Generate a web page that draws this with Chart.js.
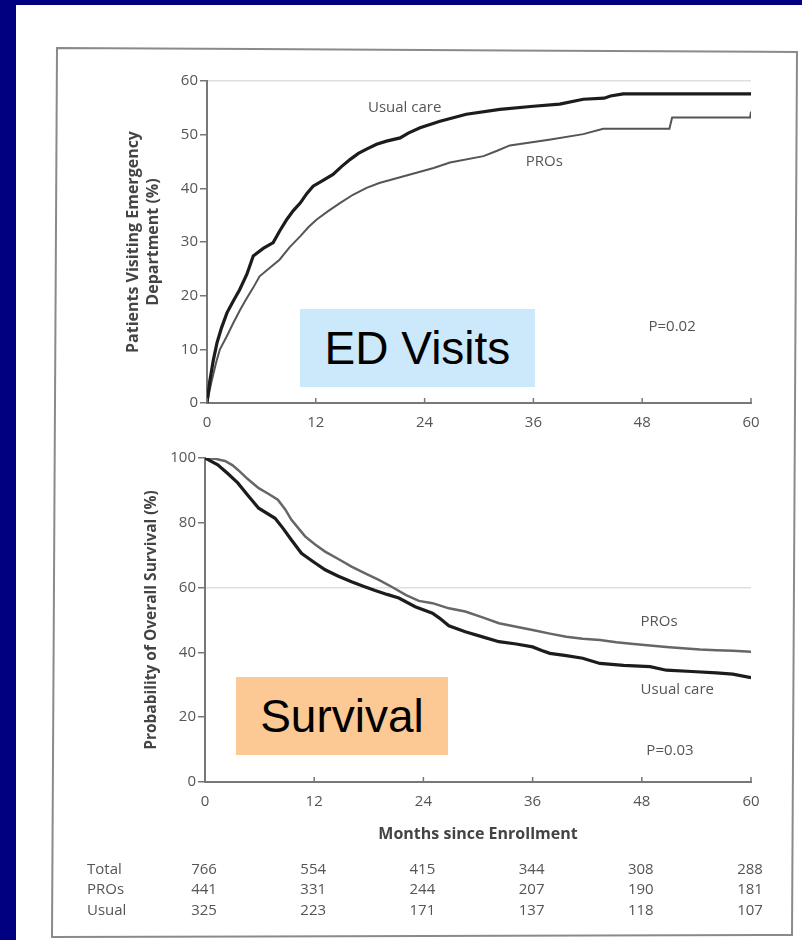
<!DOCTYPE html>
<html>
<head>
<meta charset="utf-8">
<title>ED visits and survival</title>
<script src="https://cdn.jsdelivr.net/npm/chart.js@4"></script>
<style>
    body { margin: 0; background: #000080; width: 802px; height: 940px; overflow: hidden; position: relative; }
    #paper { position: absolute; left: 16px; top: 5px; width: 786px; height: 935px; background: #fff; }
    #frame { position: absolute; left: 0; top: 0; }
    canvas { position: absolute; left: 0; }
    #edChart { top: 0; }
    #survChart { top: 440px; }
    .tag { position: absolute; font-family: "Liberation Sans", Arial, sans-serif; font-size: 46px; color: #000;
           display: flex; align-items: center; justify-content: center; }
    #edTag { left: 300px; top: 309px; width: 235px; height: 78px; background: #cce9fb; }
    #survTag { left: 236px; top: 677px; width: 212px; height: 78px; background: #fcc894; }
</style>
</head>
<body>
<div id="paper"></div>
<svg id="frame" width="802" height="940">
    <polygon points="57,48 797,52 792,935 52,937" fill="none" stroke="#8a8a8a" stroke-width="2"/>
</svg>
<canvas id="edChart" width="802" height="440"></canvas>
<canvas id="survChart" width="802" height="500"></canvas>
<div class="tag" id="edTag">ED Visits</div>
<div class="tag" id="survTag">Survival</div>

<script>
// x ticks / risk table columns
const months = [0, 12, 24, 36, 48, 60];
const riskTotal = [766, 554, 415, 344, 308, 288];
const riskPros = [441, 331, 244, 207, 190, 181];
const riskUsual = [325, 223, 171, 137, 118, 107];

// patients visiting ED (%)
const edUsualMonths = [0, 0.3, 0.7, 1.1, 1.6, 2.2, 2.9, 3.6, 4.4, 5.1, 6.2, 7.3, 8.0, 8.8, 9.5, 10.3, 11.0, 11.7, 12.8, 13.9,
    14.8, 15.8, 16.7, 17.6, 18.7, 19.8, 21.3, 22.2, 23.5, 25.7, 28.6, 32.3, 36.0, 38.9, 41.5, 43.8, 44.5, 45.9, 60];
const edUsualPct = [0, 4, 8, 11.2, 14, 16.8, 19, 21.1, 24, 27.4, 28.8, 29.9, 32, 34.2, 35.8, 37.3, 39, 40.4, 41.5, 42.6,
    44, 45.4, 46.5, 47.3, 48.2, 48.8, 49.4, 50.3, 51.3, 52.5, 53.8, 54.7, 55.3, 55.7, 56.6, 56.8, 57.2, 57.6, 57.6];

const edProsMonths = [0, 0.5, 1.0, 1.4, 2.2, 2.9, 3.6, 4.3, 5.1, 5.8, 7.0, 8.0, 9.1, 10.3, 11.2, 12.1, 13.4, 14.7, 16.1, 17.6,
    19.0, 20.5, 23.1, 25.0, 26.8, 30.5, 32.0, 33.4, 37.9, 41.5, 43.7, 51.0, 51.3, 59.9, 60];
const edProsPct = [0, 4, 7.5, 9.9, 12.5, 14.9, 17.2, 19.3, 21.5, 23.6, 25.3, 26.7, 29, 31.1, 32.8, 34.2, 35.8, 37.3, 38.8, 40.1,
    41, 41.7, 42.9, 43.8, 44.8, 46.0, 47, 48.0, 49.1, 50.1, 51.1, 51.1, 53.2, 53.2, 54.3];

// probability of overall survival (%)
const survUsualMonths = [0, 1.4, 2.5, 3.6, 4.7, 5.9, 7.7, 8.6, 9.5, 10.6, 11.9, 13.2, 14.6, 16.1, 17.4, 18.7, 20.0, 21.3, 23.1, 25.0,
    25.8, 26.8, 28.6, 30.5, 32.3, 34.2, 36.0, 37.0, 37.9, 39.7, 41.5, 43.4, 46.0, 48.9, 50.7, 53.5, 56.2, 58.0, 60];
const survUsualPct = [100, 97.9, 95.2, 92.3, 88.5, 84.5, 81.4, 78.2, 74.7, 70.6, 68, 65.5, 63.6, 61.8, 60.4, 59.1, 57.9, 56.8, 54.1, 52.1,
    50.5, 48.2, 46.4, 44.8, 43.3, 42.6, 41.7, 40.6, 39.7, 39.0, 38.2, 36.6, 36.0, 35.6, 34.5, 34.1, 33.7, 33.3, 32.2];

const survProsMonths = [0, 1.0, 2.2, 3.0, 3.6, 4.7, 5.9, 7.0, 8.0, 8.8, 9.5, 10.3, 11.0, 12.1, 13.2, 14.6, 16.1, 17.6, 19.1, 20.6,
    22.1, 23.5, 25.0, 26.8, 28.6, 30.5, 32.3, 34.2, 36.0, 37.9, 39.7, 41.5, 43.4, 45.2, 47.1, 48.9, 50.7, 52.5, 54.4, 56.2, 58.0, 60];
const survProsPct = [100, 99.8, 99.1, 97.8, 96.4, 93.5, 90.7, 88.9, 87.1, 84.2, 80.9, 78.2, 75.8, 73.3, 71.1, 68.9, 66.5, 64.4, 62.4, 60.1,
    57.7, 55.9, 55.2, 53.6, 52.6, 50.8, 49.0, 47.9, 46.9, 45.8, 44.8, 44.2, 43.8, 43.1, 42.6, 42.1, 41.7, 41.3, 40.9, 40.7, 40.5, 40.2];

Chart.defaults.font.family = '"Open Sans", sans-serif';
Chart.defaults.color = '#555';

let toPoints = function (xs, ys) {
    return xs.map(function (x, i) { return {x: x, y: ys[i]}; });
};

// tick marks pointing up, curve labels, numbers at risk
let kmExtras = {
    id: 'kmExtras',
    afterDraw: function (chart, args, opts) {
        let ctx = chart.ctx;
        let xs = chart.scales.x;
        let ys = chart.scales.y;
        ctx.save();
        ctx.strokeStyle = '#777';
        ctx.lineWidth = 1.5;
        months.forEach(function (m) {
            let px = xs.getPixelForValue(m);
            ctx.beginPath();
            ctx.moveTo(px, xs.top);
            ctx.lineTo(px, xs.top - 5);
            ctx.stroke();
        });

        ctx.fillStyle = '#555';
        ctx.font = '15px "Open Sans", sans-serif';
        ctx.textAlign = 'center';
        ctx.textBaseline = 'middle';
        (opts.labels || []).forEach(function (l) {
            ctx.fillText(l.text, xs.getPixelForValue(l.x), ys.getPixelForValue(l.y));
        });

        if (opts.riskTable) {
            let rows = [['Total', riskTotal], ['PROs', riskPros], ['Usual', riskUsual]];
            let offsets = [88, 108, 129];
            rows.forEach(function (row, r) {
                let y = chart.chartArea.bottom + offsets[r];
                ctx.textAlign = 'left';
                ctx.fillText(row[0], 87, y);
                ctx.textAlign = 'center';
                row[1].forEach(function (n, i) {
                    ctx.fillText(String(n), xs.getPixelForValue(months[i]) - 1, y);
                });
            });
        }
        ctx.restore();
    }
};

let gridAt60 = function (c) {
    return c.tick && c.tick.value === 60 ? 'rgba(0,0,0,0.13)' : 'rgba(0,0,0,0)';
};

let xAxis = function (height, title) {
    return {
        type: 'linear',
        min: 0,
        max: 60,
        afterBuildTicks: function (scale) { scale.ticks = months.map(function (m) { return {value: m}; }); },
        afterFit: function (scale) { scale.height = height; },
        border: {display: true, color: '#777', width: 2},
        grid: {display: false, drawTicks: false},
        ticks: {padding: 11, font: {size: 15}, color: '#555'},
        title: title
    };
};

let edChartDraw = function () {
    let painter = document.getElementById('edChart').getContext('2d');
    window.edChart = new Chart(painter, {
        type: 'line',
        data: {
            datasets: [{
                label: 'Usual care',
                data: toPoints(edUsualMonths, edUsualPct),
                borderColor: '#1c1c1c',
                borderWidth: 3.2
            }, {
                label: 'PROs',
                data: toPoints(edProsMonths, edProsPct),
                borderColor: '#555',
                borderWidth: 2
            }]
        },
        options: {
            responsive: false,
            animation: false,
            parsing: false,
            elements: {point: {radius: 0}, line: {tension: 0}},
            layout: {padding: {top: 81, right: 51, left: 0, bottom: 0}},
            scales: {
                x: xAxis(37, {display: false}),
                y: {
                    min: 0,
                    max: 60,
                    afterFit: function (scale) { scale.width = 207; },
                    border: {display: true, color: '#777', width: 2},
                    grid: {color: gridAt60, tickColor: '#777', tickLength: 7, lineWidth: 1.5},
                    ticks: {stepSize: 10, padding: 2, font: {size: 15}, color: '#555'},
                    title: {
                        display: true,
                        text: ['Patients Visiting Emergency', 'Department (%)'],
                        font: {size: 16, weight: 'bold', lineHeight: 1.25},
                        color: '#444',
                        padding: {top: 123, bottom: 0}
                    }
                }
            },
            plugins: {
                legend: {display: false},
                tooltip: {enabled: false},
                kmExtras: {
                    labels: [
                        {text: 'Usual care', x: 21.8, y: 55.1},
                        {text: 'PROs', x: 37.2, y: 45.0},
                        {text: 'P=0.02', x: 51.3, y: 14.3}
                    ]
                }
            }
        },
        plugins: [kmExtras]
    });
};

let survChartDraw = function () {
    let painter = document.getElementById('survChart').getContext('2d');
    window.survChart = new Chart(painter, {
        type: 'line',
        data: {
            datasets: [{
                label: 'Usual care',
                data: toPoints(survUsualMonths, survUsualPct),
                borderColor: '#1c1c1c',
                borderWidth: 3.2
            }, {
                label: 'PROs',
                data: toPoints(survProsMonths, survProsPct),
                borderColor: '#666',
                borderWidth: 2.5
            }]
        },
        options: {
            responsive: false,
            animation: false,
            parsing: false,
            elements: {point: {radius: 0}, line: {tension: 0}},
            layout: {padding: {top: 18, right: 51, left: 0, bottom: 0}},
            scales: {
                x: xAxis(158, {
                    display: true,
                    text: 'Months since Enrollment',
                    font: {size: 16, weight: 'bold'},
                    color: '#444',
                    padding: {top: 0, bottom: 96}
                }),
                y: {
                    min: 0,
                    max: 100,
                    afterFit: function (scale) { scale.width = 205; },
                    border: {display: true, color: '#777', width: 2},
                    grid: {color: gridAt60, tickColor: '#777', tickLength: 7, lineWidth: 1.5},
                    ticks: {stepSize: 20, padding: 2, font: {size: 15}, color: '#555'},
                    title: {
                        display: true,
                        text: 'Probability of Overall Survival (%)',
                        font: {size: 15.5, weight: 'bold'},
                        color: '#444',
                        padding: {top: 142, bottom: 0}
                    }
                }
            },
            plugins: {
                legend: {display: false},
                tooltip: {enabled: false},
                kmExtras: {
                    riskTable: true,
                    labels: [
                        {text: 'PROs', x: 49.9, y: 49.4},
                        {text: 'Usual care', x: 51.9, y: 28.4},
                        {text: 'P=0.03', x: 51.1, y: 9.5}
                    ]
                }
            }
        },
        plugins: [kmExtras]
    });
};

window.onload = function () {
    edChartDraw();
    survChartDraw();
};
</script>
</body>
</html>
